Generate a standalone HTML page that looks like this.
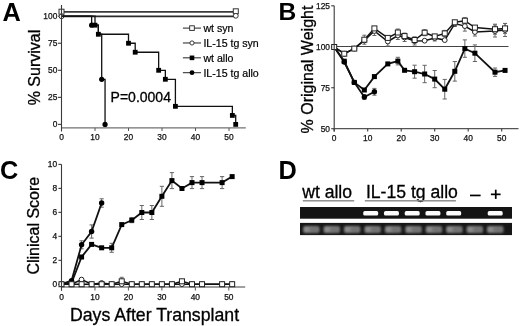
<!DOCTYPE html>
<html><head><meta charset="utf-8"><style>
html,body{margin:0;padding:0;background:#fff;}
svg{display:block;will-change:transform;}
text{font-family:"Liberation Sans", sans-serif;}
</style></head><body>
<svg width="520" height="326" viewBox="0 0 520 326">
<defs>
<radialGradient id="band" cx="0.5" cy="0.5" r="0.6"><stop offset="0" stop-color="#fff"/><stop offset="0.6" stop-color="#f4f4f4"/><stop offset="1" stop-color="#bbb"/></radialGradient>
<linearGradient id="band2" x1="0" x2="1" y1="0" y2="0"><stop offset="0" stop-color="#7a7a7a"/><stop offset="0.3" stop-color="#848484"/><stop offset="1" stop-color="#707070"/></linearGradient>
<filter id="bl" x="-20%" y="-50%" width="140%" height="200%"><feGaussianBlur stdDeviation="0.55"/></filter>
<filter id="bl2" x="-20%" y="-50%" width="140%" height="200%"><feGaussianBlur stdDeviation="0.85"/></filter>
</defs>
<rect width="520" height="326" fill="#fff"/>
<text x="2.60" y="20.70" font-size="25.3" text-anchor="start" font-weight="bold" fill="#000">A</text>
<text x="278.60" y="20.40" font-size="24.6" text-anchor="start" font-weight="bold" fill="#000">B</text>
<text x="0.10" y="179.30" font-size="25.3" text-anchor="start" font-weight="bold" fill="#000">C</text>
<text x="278.40" y="178.50" font-size="25.3" text-anchor="start" font-weight="bold" fill="#000">D</text>
<line x1="61.50" y1="127.90" x2="245.80" y2="127.90" stroke="#707070" stroke-width="1.4"/>
<line x1="58.00" y1="124.40" x2="61.50" y2="124.40" stroke="#3a3a3a" stroke-width="1.1"/>
<text x="57.30" y="127.40" font-size="8.4" text-anchor="end" font-weight="normal" fill="#111" stroke="#111" stroke-width="0.25">0</text>
<line x1="58.00" y1="97.35" x2="61.50" y2="97.35" stroke="#3a3a3a" stroke-width="1.1"/>
<text x="57.30" y="100.35" font-size="8.4" text-anchor="end" font-weight="normal" fill="#111" stroke="#111" stroke-width="0.25">25</text>
<line x1="58.00" y1="70.30" x2="61.50" y2="70.30" stroke="#3a3a3a" stroke-width="1.1"/>
<text x="57.30" y="73.30" font-size="8.4" text-anchor="end" font-weight="normal" fill="#111" stroke="#111" stroke-width="0.25">50</text>
<line x1="58.00" y1="43.25" x2="61.50" y2="43.25" stroke="#3a3a3a" stroke-width="1.1"/>
<text x="57.30" y="46.25" font-size="8.4" text-anchor="end" font-weight="normal" fill="#111" stroke="#111" stroke-width="0.25">75</text>
<line x1="58.00" y1="16.20" x2="61.50" y2="16.20" stroke="#3a3a3a" stroke-width="1.1"/>
<text x="57.30" y="19.20" font-size="8.4" text-anchor="end" font-weight="normal" fill="#111" stroke="#111" stroke-width="0.25">100</text>
<line x1="61.50" y1="127.90" x2="61.50" y2="131.00" stroke="#555" stroke-width="1.0"/>
<text x="61.50" y="140.30" font-size="8.4" text-anchor="middle" font-weight="normal" fill="#111" stroke="#111" stroke-width="0.25">0</text>
<line x1="95.00" y1="127.90" x2="95.00" y2="131.00" stroke="#555" stroke-width="1.0"/>
<text x="95.00" y="140.30" font-size="8.4" text-anchor="middle" font-weight="normal" fill="#111" stroke="#111" stroke-width="0.25">10</text>
<line x1="128.50" y1="127.90" x2="128.50" y2="131.00" stroke="#555" stroke-width="1.0"/>
<text x="128.50" y="140.30" font-size="8.4" text-anchor="middle" font-weight="normal" fill="#111" stroke="#111" stroke-width="0.25">20</text>
<line x1="162.00" y1="127.90" x2="162.00" y2="131.00" stroke="#555" stroke-width="1.0"/>
<text x="162.00" y="140.30" font-size="8.4" text-anchor="middle" font-weight="normal" fill="#111" stroke="#111" stroke-width="0.25">30</text>
<line x1="195.50" y1="127.90" x2="195.50" y2="131.00" stroke="#555" stroke-width="1.0"/>
<text x="195.50" y="140.30" font-size="8.4" text-anchor="middle" font-weight="normal" fill="#111" stroke="#111" stroke-width="0.25">40</text>
<line x1="229.00" y1="127.90" x2="229.00" y2="131.00" stroke="#555" stroke-width="1.0"/>
<text x="229.00" y="140.30" font-size="8.4" text-anchor="middle" font-weight="normal" fill="#111" stroke="#111" stroke-width="0.25">50</text>
<text x="39.60" y="67.50" font-size="16" text-anchor="middle" font-weight="normal" fill="#000" transform="rotate(-90 39.6 67.5)" stroke="#000" stroke-width="0.3">% Survival</text>
<polyline points="61.50,11.90 235.80,11.90" fill="none" stroke="#3a3a3a" stroke-width="1.7" stroke-linejoin="miter"/>
<polyline points="61.50,16.30 235.80,16.30" fill="none" stroke="#2a2a2a" stroke-width="1.7" stroke-linejoin="miter"/>
<rect x="59.00" y="9.20" width="5" height="5" fill="#fff" stroke="#333" stroke-width="1"/>
<rect x="233.30" y="8.80" width="5" height="5" fill="#fff" stroke="#333" stroke-width="1"/>
<circle cx="61.50" cy="16.30" r="2.4" fill="#fff" stroke="#333" stroke-width="1"/>
<circle cx="235.80" cy="15.80" r="2.4" fill="#fff" stroke="#333" stroke-width="1"/>
<polyline points="61.50,16.20 91.65,16.20 91.65,25.18 98.35,25.18 98.35,34.27 101.70,34.27 101.70,79.28 105.05,79.28 105.05,124.40" fill="none" stroke="#111" stroke-width="1.3" stroke-linejoin="miter"/>
<polyline points="61.50,16.20 95.00,16.20 95.00,25.18 98.35,25.18 98.35,34.27 128.50,34.27 128.50,43.25 135.20,43.25 135.20,52.23 158.65,52.23 158.65,70.30 165.35,70.30 165.35,79.28 175.40,79.28 175.40,106.33 232.35,106.33 232.35,115.42 235.70,115.42 235.70,124.40" fill="none" stroke="#111" stroke-width="1.3" stroke-linejoin="miter"/>
<circle cx="91.65" cy="25.18" r="2.6" fill="#000"/>
<circle cx="101.70" cy="79.28" r="2.6" fill="#000"/>
<circle cx="105.05" cy="124.40" r="2.6" fill="#000"/>
<rect x="92.60" y="22.78" width="4.8" height="4.8" fill="#000"/>
<rect x="95.95" y="31.87" width="4.8" height="4.8" fill="#000"/>
<rect x="126.10" y="40.85" width="4.8" height="4.8" fill="#000"/>
<rect x="132.80" y="49.83" width="4.8" height="4.8" fill="#000"/>
<rect x="156.25" y="67.90" width="4.8" height="4.8" fill="#000"/>
<rect x="162.95" y="76.88" width="4.8" height="4.8" fill="#000"/>
<rect x="173.00" y="103.93" width="4.8" height="4.8" fill="#000"/>
<rect x="229.95" y="113.02" width="4.8" height="4.8" fill="#000"/>
<rect x="233.30" y="122.00" width="4.8" height="4.8" fill="#000"/>
<line x1="182.90" y1="28.10" x2="201.00" y2="28.10" stroke="#222" stroke-width="1.0"/>
<rect x="189.70" y="25.80" width="4.6" height="4.6" fill="#fff" stroke="#222" stroke-width="0.9"/>
<text x="203.40" y="31.90" font-size="10.6" text-anchor="start" font-weight="normal" fill="#000" stroke="#000" stroke-width="0.2">wt syn</text>
<line x1="182.90" y1="42.97" x2="201.00" y2="42.97" stroke="#222" stroke-width="1.0"/>
<circle cx="192.00" cy="42.97" r="2.1" fill="#fff" stroke="#222" stroke-width="0.9"/>
<text x="203.40" y="46.77" font-size="10.6" text-anchor="start" font-weight="normal" fill="#000" stroke="#000" stroke-width="0.2">IL-15 tg syn</text>
<line x1="182.90" y1="57.84" x2="201.00" y2="57.84" stroke="#222" stroke-width="1.0"/>
<rect x="189.70" y="55.54" width="4.6" height="4.6" fill="#000"/>
<text x="203.40" y="61.64" font-size="10.6" text-anchor="start" font-weight="normal" fill="#000" stroke="#000" stroke-width="0.2">wt allo</text>
<line x1="182.90" y1="72.71" x2="201.00" y2="72.71" stroke="#222" stroke-width="1.0"/>
<circle cx="192.00" cy="72.71" r="2.4" fill="#000"/>
<text x="203.40" y="76.51" font-size="10.6" text-anchor="start" font-weight="normal" fill="#000" stroke="#000" stroke-width="0.2">IL-15 tg allo</text>
<text x="110.60" y="101.50" font-size="14" text-anchor="start" font-weight="normal" fill="#000" stroke="#000" stroke-width="0.3">P=0.0004</text>
<line x1="334.20" y1="128.70" x2="518.50" y2="128.70" stroke="#555" stroke-width="1.3"/>
<line x1="331.20" y1="5.80" x2="334.20" y2="5.80" stroke="#3a3a3a" stroke-width="1.1"/>
<text x="330.00" y="9.00" font-size="8.4" text-anchor="end" font-weight="normal" fill="#111" stroke="#111" stroke-width="0.25">125</text>
<line x1="331.20" y1="46.77" x2="334.20" y2="46.77" stroke="#3a3a3a" stroke-width="1.1"/>
<text x="330.00" y="49.97" font-size="8.4" text-anchor="end" font-weight="normal" fill="#111" stroke="#111" stroke-width="0.25">100</text>
<line x1="331.20" y1="87.75" x2="334.20" y2="87.75" stroke="#3a3a3a" stroke-width="1.1"/>
<text x="330.00" y="90.95" font-size="8.4" text-anchor="end" font-weight="normal" fill="#111" stroke="#111" stroke-width="0.25">75</text>
<line x1="331.20" y1="128.72" x2="334.20" y2="128.72" stroke="#3a3a3a" stroke-width="1.1"/>
<text x="330.00" y="131.92" font-size="8.4" text-anchor="end" font-weight="normal" fill="#111" stroke="#111" stroke-width="0.25">50</text>
<line x1="334.20" y1="128.70" x2="334.20" y2="131.60" stroke="#3a3a3a" stroke-width="1.1"/>
<text x="334.20" y="140.80" font-size="8.4" text-anchor="middle" font-weight="normal" fill="#111" stroke="#111" stroke-width="0.25">0</text>
<line x1="367.70" y1="128.70" x2="367.70" y2="131.60" stroke="#3a3a3a" stroke-width="1.1"/>
<text x="367.70" y="140.80" font-size="8.4" text-anchor="middle" font-weight="normal" fill="#111" stroke="#111" stroke-width="0.25">10</text>
<line x1="401.20" y1="128.70" x2="401.20" y2="131.60" stroke="#3a3a3a" stroke-width="1.1"/>
<text x="401.20" y="140.80" font-size="8.4" text-anchor="middle" font-weight="normal" fill="#111" stroke="#111" stroke-width="0.25">20</text>
<line x1="434.70" y1="128.70" x2="434.70" y2="131.60" stroke="#3a3a3a" stroke-width="1.1"/>
<text x="434.70" y="140.80" font-size="8.4" text-anchor="middle" font-weight="normal" fill="#111" stroke="#111" stroke-width="0.25">30</text>
<line x1="468.20" y1="128.70" x2="468.20" y2="131.60" stroke="#3a3a3a" stroke-width="1.1"/>
<text x="468.20" y="140.80" font-size="8.4" text-anchor="middle" font-weight="normal" fill="#111" stroke="#111" stroke-width="0.25">40</text>
<line x1="501.70" y1="128.70" x2="501.70" y2="131.60" stroke="#3a3a3a" stroke-width="1.1"/>
<text x="501.70" y="140.80" font-size="8.4" text-anchor="middle" font-weight="normal" fill="#111" stroke="#111" stroke-width="0.25">50</text>
<line x1="334.20" y1="46.50" x2="508.50" y2="46.50" stroke="#444" stroke-width="1.1"/>
<text x="313.20" y="69.50" font-size="16" text-anchor="middle" font-weight="normal" fill="#000" transform="rotate(-90 313.2 69.5)" stroke="#000" stroke-width="0.3">% Original Weight</text>
<line x1="364.35" y1="35.20" x2="364.35" y2="44.20" stroke="#666" stroke-width="1"/>
<line x1="362.35" y1="35.20" x2="366.35" y2="35.20" stroke="#666" stroke-width="1"/>
<line x1="362.35" y1="44.20" x2="366.35" y2="44.20" stroke="#666" stroke-width="1"/>
<line x1="374.40" y1="26.50" x2="374.40" y2="35.50" stroke="#666" stroke-width="1"/>
<line x1="372.40" y1="26.50" x2="376.40" y2="26.50" stroke="#666" stroke-width="1"/>
<line x1="372.40" y1="35.50" x2="376.40" y2="35.50" stroke="#666" stroke-width="1"/>
<line x1="387.80" y1="37.00" x2="387.80" y2="46.00" stroke="#666" stroke-width="1"/>
<line x1="385.80" y1="37.00" x2="389.80" y2="37.00" stroke="#666" stroke-width="1"/>
<line x1="385.80" y1="46.00" x2="389.80" y2="46.00" stroke="#666" stroke-width="1"/>
<line x1="397.85" y1="29.00" x2="397.85" y2="36.00" stroke="#666" stroke-width="1"/>
<line x1="395.85" y1="29.00" x2="399.85" y2="29.00" stroke="#666" stroke-width="1"/>
<line x1="395.85" y1="36.00" x2="399.85" y2="36.00" stroke="#666" stroke-width="1"/>
<line x1="397.85" y1="31.50" x2="397.85" y2="39.50" stroke="#666" stroke-width="1"/>
<line x1="395.85" y1="31.50" x2="399.85" y2="31.50" stroke="#666" stroke-width="1"/>
<line x1="395.85" y1="39.50" x2="399.85" y2="39.50" stroke="#666" stroke-width="1"/>
<line x1="397.85" y1="57.30" x2="397.85" y2="64.90" stroke="#666" stroke-width="1"/>
<line x1="395.75" y1="57.30" x2="399.95" y2="57.30" stroke="#666" stroke-width="1"/>
<line x1="395.75" y1="64.90" x2="399.95" y2="64.90" stroke="#666" stroke-width="1"/>
<line x1="404.55" y1="33.10" x2="404.55" y2="39.10" stroke="#666" stroke-width="1"/>
<line x1="402.55" y1="33.10" x2="406.55" y2="33.10" stroke="#666" stroke-width="1"/>
<line x1="402.55" y1="39.10" x2="406.55" y2="39.10" stroke="#666" stroke-width="1"/>
<line x1="404.55" y1="33.50" x2="404.55" y2="41.50" stroke="#666" stroke-width="1"/>
<line x1="402.55" y1="33.50" x2="406.55" y2="33.50" stroke="#666" stroke-width="1"/>
<line x1="402.55" y1="41.50" x2="406.55" y2="41.50" stroke="#666" stroke-width="1"/>
<line x1="414.60" y1="37.00" x2="414.60" y2="43.00" stroke="#666" stroke-width="1"/>
<line x1="412.60" y1="37.00" x2="416.60" y2="37.00" stroke="#666" stroke-width="1"/>
<line x1="412.60" y1="43.00" x2="416.60" y2="43.00" stroke="#666" stroke-width="1"/>
<line x1="414.60" y1="37.00" x2="414.60" y2="45.00" stroke="#666" stroke-width="1"/>
<line x1="412.60" y1="37.00" x2="416.60" y2="37.00" stroke="#666" stroke-width="1"/>
<line x1="412.60" y1="45.00" x2="416.60" y2="45.00" stroke="#666" stroke-width="1"/>
<line x1="414.60" y1="65.20" x2="414.60" y2="78.20" stroke="#666" stroke-width="1"/>
<line x1="412.50" y1="65.20" x2="416.70" y2="65.20" stroke="#666" stroke-width="1"/>
<line x1="412.50" y1="78.20" x2="416.70" y2="78.20" stroke="#666" stroke-width="1"/>
<line x1="424.65" y1="29.70" x2="424.65" y2="35.70" stroke="#666" stroke-width="1"/>
<line x1="422.65" y1="29.70" x2="426.65" y2="29.70" stroke="#666" stroke-width="1"/>
<line x1="422.65" y1="35.70" x2="426.65" y2="35.70" stroke="#666" stroke-width="1"/>
<line x1="424.65" y1="65.30" x2="424.65" y2="82.70" stroke="#666" stroke-width="1"/>
<line x1="422.55" y1="65.30" x2="426.75" y2="65.30" stroke="#666" stroke-width="1"/>
<line x1="422.55" y1="82.70" x2="426.75" y2="82.70" stroke="#666" stroke-width="1"/>
<line x1="434.70" y1="35.00" x2="434.70" y2="41.00" stroke="#666" stroke-width="1"/>
<line x1="432.70" y1="35.00" x2="436.70" y2="35.00" stroke="#666" stroke-width="1"/>
<line x1="432.70" y1="41.00" x2="436.70" y2="41.00" stroke="#666" stroke-width="1"/>
<line x1="434.70" y1="70.50" x2="434.70" y2="87.70" stroke="#666" stroke-width="1"/>
<line x1="432.60" y1="70.50" x2="436.80" y2="70.50" stroke="#666" stroke-width="1"/>
<line x1="432.60" y1="87.70" x2="436.80" y2="87.70" stroke="#666" stroke-width="1"/>
<line x1="444.75" y1="30.40" x2="444.75" y2="36.40" stroke="#666" stroke-width="1"/>
<line x1="442.75" y1="30.40" x2="446.75" y2="30.40" stroke="#666" stroke-width="1"/>
<line x1="442.75" y1="36.40" x2="446.75" y2="36.40" stroke="#666" stroke-width="1"/>
<line x1="444.75" y1="79.40" x2="444.75" y2="99.00" stroke="#666" stroke-width="1"/>
<line x1="442.65" y1="79.40" x2="446.85" y2="79.40" stroke="#666" stroke-width="1"/>
<line x1="442.65" y1="99.00" x2="446.85" y2="99.00" stroke="#666" stroke-width="1"/>
<line x1="454.80" y1="20.50" x2="454.80" y2="26.50" stroke="#666" stroke-width="1"/>
<line x1="452.80" y1="20.50" x2="456.80" y2="20.50" stroke="#666" stroke-width="1"/>
<line x1="452.80" y1="26.50" x2="456.80" y2="26.50" stroke="#666" stroke-width="1"/>
<line x1="454.80" y1="61.50" x2="454.80" y2="81.10" stroke="#666" stroke-width="1"/>
<line x1="452.70" y1="61.50" x2="456.90" y2="61.50" stroke="#666" stroke-width="1"/>
<line x1="452.70" y1="81.10" x2="456.90" y2="81.10" stroke="#666" stroke-width="1"/>
<line x1="464.85" y1="17.70" x2="464.85" y2="23.70" stroke="#666" stroke-width="1"/>
<line x1="462.85" y1="17.70" x2="466.85" y2="17.70" stroke="#666" stroke-width="1"/>
<line x1="462.85" y1="23.70" x2="466.85" y2="23.70" stroke="#666" stroke-width="1"/>
<line x1="464.85" y1="21.10" x2="464.85" y2="31.10" stroke="#666" stroke-width="1"/>
<line x1="462.85" y1="21.10" x2="466.85" y2="21.10" stroke="#666" stroke-width="1"/>
<line x1="462.85" y1="31.10" x2="466.85" y2="31.10" stroke="#666" stroke-width="1"/>
<line x1="464.85" y1="39.90" x2="464.85" y2="57.30" stroke="#666" stroke-width="1"/>
<line x1="462.75" y1="39.90" x2="466.95" y2="39.90" stroke="#666" stroke-width="1"/>
<line x1="462.75" y1="57.30" x2="466.95" y2="57.30" stroke="#666" stroke-width="1"/>
<line x1="474.90" y1="28.00" x2="474.90" y2="36.00" stroke="#666" stroke-width="1"/>
<line x1="472.90" y1="28.00" x2="476.90" y2="28.00" stroke="#666" stroke-width="1"/>
<line x1="472.90" y1="36.00" x2="476.90" y2="36.00" stroke="#666" stroke-width="1"/>
<line x1="474.90" y1="44.90" x2="474.90" y2="61.50" stroke="#666" stroke-width="1"/>
<line x1="472.80" y1="44.90" x2="477.00" y2="44.90" stroke="#666" stroke-width="1"/>
<line x1="472.80" y1="61.50" x2="477.00" y2="61.50" stroke="#666" stroke-width="1"/>
<line x1="495.00" y1="24.20" x2="495.00" y2="34.20" stroke="#666" stroke-width="1"/>
<line x1="493.00" y1="24.20" x2="497.00" y2="24.20" stroke="#666" stroke-width="1"/>
<line x1="493.00" y1="34.20" x2="497.00" y2="34.20" stroke="#666" stroke-width="1"/>
<line x1="495.00" y1="25.00" x2="495.00" y2="37.00" stroke="#666" stroke-width="1"/>
<line x1="493.00" y1="25.00" x2="497.00" y2="25.00" stroke="#666" stroke-width="1"/>
<line x1="493.00" y1="37.00" x2="497.00" y2="37.00" stroke="#666" stroke-width="1"/>
<line x1="495.00" y1="68.00" x2="495.00" y2="76.40" stroke="#666" stroke-width="1"/>
<line x1="492.90" y1="68.00" x2="497.10" y2="68.00" stroke="#666" stroke-width="1"/>
<line x1="492.90" y1="76.40" x2="497.10" y2="76.40" stroke="#666" stroke-width="1"/>
<line x1="505.05" y1="23.40" x2="505.05" y2="33.40" stroke="#666" stroke-width="1"/>
<line x1="503.05" y1="23.40" x2="507.05" y2="23.40" stroke="#666" stroke-width="1"/>
<line x1="503.05" y1="33.40" x2="507.05" y2="33.40" stroke="#666" stroke-width="1"/>
<line x1="505.05" y1="23.50" x2="505.05" y2="36.50" stroke="#666" stroke-width="1"/>
<line x1="503.05" y1="23.50" x2="507.05" y2="23.50" stroke="#666" stroke-width="1"/>
<line x1="503.05" y1="36.50" x2="507.05" y2="36.50" stroke="#666" stroke-width="1"/>
<line x1="364.35" y1="94.60" x2="364.35" y2="99.40" stroke="#666" stroke-width="1"/>
<line x1="362.25" y1="94.60" x2="366.45" y2="94.60" stroke="#666" stroke-width="1"/>
<line x1="362.25" y1="99.40" x2="366.45" y2="99.40" stroke="#666" stroke-width="1"/>
<line x1="374.40" y1="88.40" x2="374.40" y2="95.20" stroke="#666" stroke-width="1"/>
<line x1="372.30" y1="88.40" x2="376.50" y2="88.40" stroke="#666" stroke-width="1"/>
<line x1="372.30" y1="95.20" x2="376.50" y2="95.20" stroke="#666" stroke-width="1"/>
<polyline points="334.20,47.00 344.25,53.70 354.30,48.60 364.35,40.50 374.40,31.00 387.80,41.50 397.85,35.50 404.55,37.50 414.60,41.00 424.65,40.70 434.70,38.00 444.75,40.10 454.80,23.50 464.85,26.10 474.90,32.00 495.00,31.00 505.05,30.00" fill="none" stroke="#111" stroke-width="1.5" stroke-linejoin="miter"/>
<polyline points="334.20,47.00 344.25,53.70 354.30,48.60 364.35,39.70 374.40,28.40 387.80,37.90 397.85,32.50 404.55,36.10 414.60,40.00 424.65,32.70 434.70,36.40 444.75,33.40 454.80,22.30 464.85,20.70 474.90,27.60 495.00,29.20 505.05,28.40" fill="none" stroke="#111" stroke-width="1.5" stroke-linejoin="miter"/>
<polyline points="334.20,47.00 344.25,61.20 354.30,82.40 364.35,90.00 374.40,76.60 387.80,63.90 397.85,61.10 404.55,70.30 414.60,71.70 424.65,74.00 434.70,79.10 444.75,89.20 454.80,71.30 464.85,48.60 474.90,53.20 495.00,72.20 505.05,70.40" fill="none" stroke="#111" stroke-width="1.8" stroke-linejoin="miter"/>
<polyline points="334.20,47.00 344.25,62.00 354.30,82.40 364.35,97.00 374.40,91.80" fill="none" stroke="#111" stroke-width="1.8" stroke-linejoin="miter"/>
<circle cx="334.20" cy="47.00" r="2.4" fill="#fff" stroke="#222" stroke-width="1"/>
<circle cx="344.25" cy="53.70" r="2.4" fill="#fff" stroke="#222" stroke-width="1"/>
<circle cx="354.30" cy="48.60" r="2.4" fill="#fff" stroke="#222" stroke-width="1"/>
<circle cx="364.35" cy="40.50" r="2.4" fill="#fff" stroke="#222" stroke-width="1"/>
<circle cx="374.40" cy="31.00" r="2.4" fill="#fff" stroke="#222" stroke-width="1"/>
<circle cx="387.80" cy="41.50" r="2.4" fill="#fff" stroke="#222" stroke-width="1"/>
<circle cx="397.85" cy="35.50" r="2.4" fill="#fff" stroke="#222" stroke-width="1"/>
<circle cx="404.55" cy="37.50" r="2.4" fill="#fff" stroke="#222" stroke-width="1"/>
<circle cx="414.60" cy="41.00" r="2.4" fill="#fff" stroke="#222" stroke-width="1"/>
<circle cx="424.65" cy="40.70" r="2.4" fill="#fff" stroke="#222" stroke-width="1"/>
<circle cx="434.70" cy="38.00" r="2.4" fill="#fff" stroke="#222" stroke-width="1"/>
<circle cx="444.75" cy="40.10" r="2.4" fill="#fff" stroke="#222" stroke-width="1"/>
<circle cx="454.80" cy="23.50" r="2.4" fill="#fff" stroke="#222" stroke-width="1"/>
<circle cx="464.85" cy="26.10" r="2.4" fill="#fff" stroke="#222" stroke-width="1"/>
<circle cx="474.90" cy="32.00" r="2.4" fill="#fff" stroke="#222" stroke-width="1"/>
<circle cx="495.00" cy="31.00" r="2.4" fill="#fff" stroke="#222" stroke-width="1"/>
<circle cx="505.05" cy="30.00" r="2.4" fill="#fff" stroke="#222" stroke-width="1"/>
<rect x="331.70" y="44.50" width="5" height="5" fill="#fff" stroke="#222" stroke-width="1"/>
<rect x="341.75" y="51.20" width="5" height="5" fill="#fff" stroke="#222" stroke-width="1"/>
<rect x="351.80" y="46.10" width="5" height="5" fill="#fff" stroke="#222" stroke-width="1"/>
<rect x="361.85" y="37.20" width="5" height="5" fill="#fff" stroke="#222" stroke-width="1"/>
<rect x="371.90" y="25.90" width="5" height="5" fill="#fff" stroke="#222" stroke-width="1"/>
<rect x="385.30" y="35.40" width="5" height="5" fill="#fff" stroke="#222" stroke-width="1"/>
<rect x="395.35" y="30.00" width="5" height="5" fill="#fff" stroke="#222" stroke-width="1"/>
<rect x="402.05" y="33.60" width="5" height="5" fill="#fff" stroke="#222" stroke-width="1"/>
<rect x="412.10" y="37.50" width="5" height="5" fill="#fff" stroke="#222" stroke-width="1"/>
<rect x="422.15" y="30.20" width="5" height="5" fill="#fff" stroke="#222" stroke-width="1"/>
<rect x="432.20" y="33.90" width="5" height="5" fill="#fff" stroke="#222" stroke-width="1"/>
<rect x="442.25" y="30.90" width="5" height="5" fill="#fff" stroke="#222" stroke-width="1"/>
<rect x="452.30" y="19.80" width="5" height="5" fill="#fff" stroke="#222" stroke-width="1"/>
<rect x="462.35" y="18.20" width="5" height="5" fill="#fff" stroke="#222" stroke-width="1"/>
<rect x="472.40" y="25.10" width="5" height="5" fill="#fff" stroke="#222" stroke-width="1"/>
<rect x="492.50" y="26.70" width="5" height="5" fill="#fff" stroke="#222" stroke-width="1"/>
<rect x="502.55" y="25.90" width="5" height="5" fill="#fff" stroke="#222" stroke-width="1"/>
<circle cx="344.25" cy="62.00" r="2.7" fill="#000"/>
<circle cx="354.30" cy="82.40" r="2.7" fill="#000"/>
<circle cx="364.35" cy="97.00" r="2.7" fill="#000"/>
<circle cx="374.40" cy="91.80" r="2.7" fill="#000"/>
<rect x="341.75" y="58.70" width="5" height="5" fill="#000"/>
<rect x="351.80" y="79.90" width="5" height="5" fill="#000"/>
<rect x="361.85" y="87.50" width="5" height="5" fill="#000"/>
<rect x="371.90" y="74.10" width="5" height="5" fill="#000"/>
<rect x="385.30" y="61.40" width="5" height="5" fill="#000"/>
<rect x="395.35" y="58.60" width="5" height="5" fill="#000"/>
<rect x="402.05" y="67.80" width="5" height="5" fill="#000"/>
<rect x="412.10" y="69.20" width="5" height="5" fill="#000"/>
<rect x="422.15" y="71.50" width="5" height="5" fill="#000"/>
<rect x="432.20" y="76.60" width="5" height="5" fill="#000"/>
<rect x="442.25" y="86.70" width="5" height="5" fill="#000"/>
<rect x="452.30" y="68.80" width="5" height="5" fill="#000"/>
<rect x="462.35" y="46.10" width="5" height="5" fill="#000"/>
<rect x="472.40" y="50.70" width="5" height="5" fill="#000"/>
<rect x="492.50" y="69.70" width="5" height="5" fill="#000"/>
<rect x="502.55" y="67.90" width="5" height="5" fill="#000"/>
<line x1="61.50" y1="287.00" x2="245.20" y2="287.00" stroke="#808080" stroke-width="1.4"/>
<line x1="58.40" y1="284.30" x2="61.50" y2="284.30" stroke="#3a3a3a" stroke-width="1.1"/>
<text x="57.10" y="287.00" font-size="8.4" text-anchor="end" font-weight="normal" fill="#111" stroke="#111" stroke-width="0.25">0</text>
<line x1="58.40" y1="260.32" x2="61.50" y2="260.32" stroke="#3a3a3a" stroke-width="1.1"/>
<text x="57.10" y="263.02" font-size="8.4" text-anchor="end" font-weight="normal" fill="#111" stroke="#111" stroke-width="0.25">2</text>
<line x1="58.40" y1="236.34" x2="61.50" y2="236.34" stroke="#3a3a3a" stroke-width="1.1"/>
<text x="57.10" y="239.04" font-size="8.4" text-anchor="end" font-weight="normal" fill="#111" stroke="#111" stroke-width="0.25">4</text>
<line x1="58.40" y1="212.36" x2="61.50" y2="212.36" stroke="#3a3a3a" stroke-width="1.1"/>
<text x="57.10" y="215.06" font-size="8.4" text-anchor="end" font-weight="normal" fill="#111" stroke="#111" stroke-width="0.25">6</text>
<line x1="58.40" y1="188.38" x2="61.50" y2="188.38" stroke="#3a3a3a" stroke-width="1.1"/>
<text x="57.10" y="191.08" font-size="8.4" text-anchor="end" font-weight="normal" fill="#111" stroke="#111" stroke-width="0.25">8</text>
<line x1="58.40" y1="164.40" x2="61.50" y2="164.40" stroke="#3a3a3a" stroke-width="1.1"/>
<text x="57.10" y="167.10" font-size="8.4" text-anchor="end" font-weight="normal" fill="#111" stroke="#111" stroke-width="0.25">10</text>
<line x1="61.50" y1="287.00" x2="61.50" y2="290.50" stroke="#555" stroke-width="1.0"/>
<text x="61.50" y="300.20" font-size="8.4" text-anchor="middle" font-weight="normal" fill="#111" stroke="#111" stroke-width="0.25">0</text>
<line x1="94.96" y1="287.00" x2="94.96" y2="290.50" stroke="#555" stroke-width="1.0"/>
<text x="94.96" y="300.20" font-size="8.4" text-anchor="middle" font-weight="normal" fill="#111" stroke="#111" stroke-width="0.25">10</text>
<line x1="128.42" y1="287.00" x2="128.42" y2="290.50" stroke="#555" stroke-width="1.0"/>
<text x="128.42" y="300.20" font-size="8.4" text-anchor="middle" font-weight="normal" fill="#111" stroke="#111" stroke-width="0.25">20</text>
<line x1="161.88" y1="287.00" x2="161.88" y2="290.50" stroke="#555" stroke-width="1.0"/>
<text x="161.88" y="300.20" font-size="8.4" text-anchor="middle" font-weight="normal" fill="#111" stroke="#111" stroke-width="0.25">30</text>
<line x1="195.34" y1="287.00" x2="195.34" y2="290.50" stroke="#555" stroke-width="1.0"/>
<text x="195.34" y="300.20" font-size="8.4" text-anchor="middle" font-weight="normal" fill="#111" stroke="#111" stroke-width="0.25">40</text>
<line x1="228.80" y1="287.00" x2="228.80" y2="290.50" stroke="#555" stroke-width="1.0"/>
<text x="228.80" y="300.20" font-size="8.4" text-anchor="middle" font-weight="normal" fill="#111" stroke="#111" stroke-width="0.25">50</text>
<text x="39.40" y="225.70" font-size="16" text-anchor="middle" font-weight="normal" fill="#000" transform="rotate(-90 39.4 225.7)" stroke="#000" stroke-width="0.3">Clinical Score</text>
<text x="154.50" y="320.90" font-size="17.7" text-anchor="middle" font-weight="normal" fill="#000" stroke="#000" stroke-width="0.3">Days After Transplant</text>
<line x1="111.69" y1="243.30" x2="111.69" y2="252.30" stroke="#666" stroke-width="1"/>
<line x1="109.59" y1="243.30" x2="113.79" y2="243.30" stroke="#666" stroke-width="1"/>
<line x1="109.59" y1="252.30" x2="113.79" y2="252.30" stroke="#666" stroke-width="1"/>
<line x1="131.77" y1="217.70" x2="131.77" y2="222.70" stroke="#666" stroke-width="1"/>
<line x1="129.67" y1="217.70" x2="133.87" y2="217.70" stroke="#666" stroke-width="1"/>
<line x1="129.67" y1="222.70" x2="133.87" y2="222.70" stroke="#666" stroke-width="1"/>
<line x1="141.80" y1="205.50" x2="141.80" y2="219.50" stroke="#666" stroke-width="1"/>
<line x1="139.70" y1="205.50" x2="143.90" y2="205.50" stroke="#666" stroke-width="1"/>
<line x1="139.70" y1="219.50" x2="143.90" y2="219.50" stroke="#666" stroke-width="1"/>
<line x1="151.84" y1="205.50" x2="151.84" y2="219.50" stroke="#666" stroke-width="1"/>
<line x1="149.74" y1="205.50" x2="153.94" y2="205.50" stroke="#666" stroke-width="1"/>
<line x1="149.74" y1="219.50" x2="153.94" y2="219.50" stroke="#666" stroke-width="1"/>
<line x1="161.88" y1="186.30" x2="161.88" y2="206.30" stroke="#666" stroke-width="1"/>
<line x1="159.78" y1="186.30" x2="163.98" y2="186.30" stroke="#666" stroke-width="1"/>
<line x1="159.78" y1="206.30" x2="163.98" y2="206.30" stroke="#666" stroke-width="1"/>
<line x1="171.92" y1="172.60" x2="171.92" y2="188.60" stroke="#666" stroke-width="1"/>
<line x1="169.82" y1="172.60" x2="174.02" y2="172.60" stroke="#666" stroke-width="1"/>
<line x1="169.82" y1="188.60" x2="174.02" y2="188.60" stroke="#666" stroke-width="1"/>
<line x1="191.99" y1="176.60" x2="191.99" y2="188.60" stroke="#666" stroke-width="1"/>
<line x1="189.89" y1="176.60" x2="194.09" y2="176.60" stroke="#666" stroke-width="1"/>
<line x1="189.89" y1="188.60" x2="194.09" y2="188.60" stroke="#666" stroke-width="1"/>
<line x1="202.03" y1="176.60" x2="202.03" y2="188.60" stroke="#666" stroke-width="1"/>
<line x1="199.93" y1="176.60" x2="204.13" y2="176.60" stroke="#666" stroke-width="1"/>
<line x1="199.93" y1="188.60" x2="204.13" y2="188.60" stroke="#666" stroke-width="1"/>
<line x1="222.11" y1="176.60" x2="222.11" y2="188.60" stroke="#666" stroke-width="1"/>
<line x1="220.01" y1="176.60" x2="224.21" y2="176.60" stroke="#666" stroke-width="1"/>
<line x1="220.01" y1="188.60" x2="224.21" y2="188.60" stroke="#666" stroke-width="1"/>
<line x1="81.58" y1="240.80" x2="81.58" y2="248.80" stroke="#666" stroke-width="1"/>
<line x1="79.48" y1="240.80" x2="83.68" y2="240.80" stroke="#666" stroke-width="1"/>
<line x1="79.48" y1="248.80" x2="83.68" y2="248.80" stroke="#666" stroke-width="1"/>
<line x1="91.61" y1="224.90" x2="91.61" y2="238.10" stroke="#666" stroke-width="1"/>
<line x1="89.51" y1="224.90" x2="93.71" y2="224.90" stroke="#666" stroke-width="1"/>
<line x1="89.51" y1="238.10" x2="93.71" y2="238.10" stroke="#666" stroke-width="1"/>
<line x1="101.65" y1="198.80" x2="101.65" y2="207.20" stroke="#666" stroke-width="1"/>
<line x1="99.55" y1="198.80" x2="103.75" y2="198.80" stroke="#666" stroke-width="1"/>
<line x1="99.55" y1="207.20" x2="103.75" y2="207.20" stroke="#666" stroke-width="1"/>
<line x1="121.73" y1="277.30" x2="121.73" y2="285.30" stroke="#666" stroke-width="1"/>
<line x1="119.73" y1="277.30" x2="123.73" y2="277.30" stroke="#666" stroke-width="1"/>
<line x1="119.73" y1="285.30" x2="123.73" y2="285.30" stroke="#666" stroke-width="1"/>
<polyline points="61.50,284.20 71.54,284.20 81.58,279.60 91.61,284.20 101.65,283.00 111.69,284.20 121.73,284.20 131.77,284.20 141.80,284.20 151.84,284.20 161.88,284.20 171.92,284.20 181.96,284.20 191.99,284.20 202.03,284.20 222.11,284.20 232.15,284.20" fill="none" stroke="#111" stroke-width="1.5" stroke-linejoin="miter"/>
<polyline points="61.50,284.20 71.54,284.20 81.58,284.20 91.61,284.20 101.65,284.20 111.69,284.20 121.73,281.30 131.77,284.20 141.80,284.20 151.84,284.20 161.88,284.20 171.92,284.20 181.96,281.30 191.99,284.20 202.03,284.20 222.11,284.20 232.15,284.20" fill="none" stroke="#111" stroke-width="1.5" stroke-linejoin="miter"/>
<polyline points="61.50,284.20 71.54,283.00 81.58,257.00 91.61,244.40 101.65,247.80 111.69,247.80 121.73,224.60 131.77,220.20 141.80,212.50 151.84,212.50 161.88,196.30 171.92,180.60 181.96,188.50 191.99,182.60 202.03,182.60 222.11,182.60 232.15,176.60" fill="none" stroke="#111" stroke-width="1.8" stroke-linejoin="miter"/>
<polyline points="61.50,284.20 71.54,280.70 81.58,244.80 91.61,231.50 101.65,203.00" fill="none" stroke="#111" stroke-width="1.8" stroke-linejoin="miter"/>
<circle cx="61.50" cy="284.20" r="2.4" fill="#fff" stroke="#222" stroke-width="1"/>
<circle cx="71.54" cy="284.20" r="2.4" fill="#fff" stroke="#222" stroke-width="1"/>
<circle cx="81.58" cy="279.60" r="2.4" fill="#fff" stroke="#222" stroke-width="1"/>
<circle cx="91.61" cy="284.20" r="2.4" fill="#fff" stroke="#222" stroke-width="1"/>
<circle cx="101.65" cy="283.00" r="2.4" fill="#fff" stroke="#222" stroke-width="1"/>
<circle cx="111.69" cy="284.20" r="2.4" fill="#fff" stroke="#222" stroke-width="1"/>
<circle cx="121.73" cy="284.20" r="2.4" fill="#fff" stroke="#222" stroke-width="1"/>
<circle cx="131.77" cy="284.20" r="2.4" fill="#fff" stroke="#222" stroke-width="1"/>
<circle cx="141.80" cy="284.20" r="2.4" fill="#fff" stroke="#222" stroke-width="1"/>
<circle cx="151.84" cy="284.20" r="2.4" fill="#fff" stroke="#222" stroke-width="1"/>
<circle cx="161.88" cy="284.20" r="2.4" fill="#fff" stroke="#222" stroke-width="1"/>
<circle cx="171.92" cy="284.20" r="2.4" fill="#fff" stroke="#222" stroke-width="1"/>
<circle cx="181.96" cy="284.20" r="2.4" fill="#fff" stroke="#222" stroke-width="1"/>
<circle cx="191.99" cy="284.20" r="2.4" fill="#fff" stroke="#222" stroke-width="1"/>
<circle cx="202.03" cy="284.20" r="2.4" fill="#fff" stroke="#222" stroke-width="1"/>
<circle cx="222.11" cy="284.20" r="2.4" fill="#fff" stroke="#222" stroke-width="1"/>
<circle cx="232.15" cy="284.20" r="2.4" fill="#fff" stroke="#222" stroke-width="1"/>
<circle cx="71.54" cy="280.70" r="2.7" fill="#000"/>
<circle cx="81.58" cy="244.80" r="2.7" fill="#000"/>
<circle cx="91.61" cy="231.50" r="2.7" fill="#000"/>
<circle cx="101.65" cy="203.00" r="2.7" fill="#000"/>
<rect x="69.04" y="280.50" width="5" height="5" fill="#000"/>
<rect x="79.08" y="254.50" width="5" height="5" fill="#000"/>
<rect x="89.11" y="241.90" width="5" height="5" fill="#000"/>
<rect x="99.15" y="245.30" width="5" height="5" fill="#000"/>
<rect x="109.19" y="245.30" width="5" height="5" fill="#000"/>
<rect x="119.23" y="222.10" width="5" height="5" fill="#000"/>
<rect x="129.27" y="217.70" width="5" height="5" fill="#000"/>
<rect x="139.30" y="210.00" width="5" height="5" fill="#000"/>
<rect x="149.34" y="210.00" width="5" height="5" fill="#000"/>
<rect x="159.38" y="193.80" width="5" height="5" fill="#000"/>
<rect x="169.42" y="178.10" width="5" height="5" fill="#000"/>
<rect x="179.46" y="186.00" width="5" height="5" fill="#000"/>
<rect x="189.49" y="180.10" width="5" height="5" fill="#000"/>
<rect x="199.53" y="180.10" width="5" height="5" fill="#000"/>
<rect x="219.61" y="180.10" width="5" height="5" fill="#000"/>
<rect x="229.65" y="174.10" width="5" height="5" fill="#000"/>
<rect x="59.00" y="281.70" width="5" height="5" fill="#fff" stroke="#222" stroke-width="1"/>
<rect x="69.04" y="281.70" width="5" height="5" fill="#fff" stroke="#222" stroke-width="1"/>
<rect x="79.08" y="281.70" width="5" height="5" fill="#fff" stroke="#222" stroke-width="1"/>
<rect x="89.11" y="281.70" width="5" height="5" fill="#fff" stroke="#222" stroke-width="1"/>
<rect x="99.15" y="281.70" width="5" height="5" fill="#fff" stroke="#222" stroke-width="1"/>
<rect x="109.19" y="281.70" width="5" height="5" fill="#fff" stroke="#222" stroke-width="1"/>
<rect x="119.23" y="278.80" width="5" height="5" fill="#fff" stroke="#222" stroke-width="1"/>
<rect x="129.27" y="281.70" width="5" height="5" fill="#fff" stroke="#222" stroke-width="1"/>
<rect x="139.30" y="281.70" width="5" height="5" fill="#fff" stroke="#222" stroke-width="1"/>
<rect x="149.34" y="281.70" width="5" height="5" fill="#fff" stroke="#222" stroke-width="1"/>
<rect x="159.38" y="281.70" width="5" height="5" fill="#fff" stroke="#222" stroke-width="1"/>
<rect x="169.42" y="281.70" width="5" height="5" fill="#fff" stroke="#222" stroke-width="1"/>
<rect x="179.46" y="278.80" width="5" height="5" fill="#fff" stroke="#222" stroke-width="1"/>
<rect x="189.49" y="281.70" width="5" height="5" fill="#fff" stroke="#222" stroke-width="1"/>
<rect x="199.53" y="281.70" width="5" height="5" fill="#fff" stroke="#222" stroke-width="1"/>
<rect x="219.61" y="281.70" width="5" height="5" fill="#fff" stroke="#222" stroke-width="1"/>
<rect x="229.65" y="281.70" width="5" height="5" fill="#fff" stroke="#222" stroke-width="1"/>
<text x="302.20" y="197.80" font-size="17.6" text-anchor="start" font-weight="normal" fill="#000" stroke="#000" stroke-width="0.3">wt allo</text>
<text x="365.90" y="197.80" font-size="17.6" text-anchor="start" font-weight="normal" fill="#000" stroke="#000" stroke-width="0.3">IL-15 tg allo</text>
<rect x="302.8" y="200.1" width="51.4" height="1.4" fill="#888"/>
<rect x="364.8" y="200.1" width="91.1" height="1.4" fill="#888"/>
<rect x="470" y="194.6" width="10.6" height="1.7" fill="#000"/>
<rect x="490.9" y="193.5" width="9.7" height="1.7" fill="#000"/>
<rect x="494.9" y="189.7" width="1.7" height="9.2" fill="#000"/>
<rect x="300" y="207.0" width="212" height="11.7" fill="#141414"/>
<rect x="300" y="222.9" width="212" height="12.2" fill="#161616"/>
<clipPath id="g1"><rect x="300" y="207.0" width="212" height="11.7"/></clipPath>
<g clip-path="url(#g1)" filter="url(#bl)">
<rect x="363.20" y="211.1" width="15.0" height="4.5" rx="1.6" fill="#fcfcfc"/>
<rect x="383.95" y="211.1" width="15.0" height="4.5" rx="1.6" fill="#fcfcfc"/>
<rect x="404.70" y="211.1" width="15.0" height="4.5" rx="1.6" fill="#fcfcfc"/>
<rect x="425.45" y="211.1" width="15.0" height="4.5" rx="1.6" fill="#fcfcfc"/>
<rect x="446.20" y="211.1" width="15.0" height="4.5" rx="1.6" fill="#fcfcfc"/>
<rect x="487.70" y="211.1" width="15.0" height="4.5" rx="1.6" fill="#fcfcfc"/>
</g>
<g filter="url(#bl2)">
<rect x="303.05" y="226.0" width="16.6" height="7.0" rx="1.8" fill="url(#band2)"/>
<ellipse cx="312.85" cy="229.6" rx="3.6" ry="1.9" fill="#6e6e6e"/>
<ellipse cx="306.75" cy="229.4" rx="2.3" ry="2.4" fill="#8c8c8c"/>
<rect x="323.48" y="226.0" width="16.6" height="7.0" rx="1.8" fill="url(#band2)"/>
<ellipse cx="333.28" cy="229.6" rx="3.6" ry="1.9" fill="#6e6e6e"/>
<ellipse cx="327.18" cy="229.4" rx="2.3" ry="2.4" fill="#8c8c8c"/>
<rect x="343.91" y="226.0" width="16.6" height="7.0" rx="1.8" fill="url(#band2)"/>
<ellipse cx="353.71" cy="229.6" rx="3.6" ry="1.9" fill="#6e6e6e"/>
<ellipse cx="347.61" cy="229.4" rx="2.3" ry="2.4" fill="#8c8c8c"/>
<rect x="364.34" y="226.0" width="16.6" height="7.0" rx="1.8" fill="url(#band2)"/>
<ellipse cx="374.14" cy="229.6" rx="3.6" ry="1.9" fill="#6e6e6e"/>
<ellipse cx="368.04" cy="229.4" rx="2.3" ry="2.4" fill="#8c8c8c"/>
<rect x="384.77" y="226.0" width="16.6" height="7.0" rx="1.8" fill="url(#band2)"/>
<ellipse cx="394.57" cy="229.6" rx="3.6" ry="1.9" fill="#6e6e6e"/>
<ellipse cx="388.47" cy="229.4" rx="2.3" ry="2.4" fill="#8c8c8c"/>
<rect x="405.20" y="226.0" width="16.6" height="7.0" rx="1.8" fill="url(#band2)"/>
<ellipse cx="415.00" cy="229.6" rx="3.6" ry="1.9" fill="#6e6e6e"/>
<ellipse cx="408.90" cy="229.4" rx="2.3" ry="2.4" fill="#8c8c8c"/>
<rect x="425.63" y="226.0" width="16.6" height="7.0" rx="1.8" fill="url(#band2)"/>
<ellipse cx="435.43" cy="229.6" rx="3.6" ry="1.9" fill="#6e6e6e"/>
<ellipse cx="429.33" cy="229.4" rx="2.3" ry="2.4" fill="#8c8c8c"/>
<rect x="446.06" y="226.0" width="16.6" height="7.0" rx="1.8" fill="url(#band2)"/>
<ellipse cx="455.86" cy="229.6" rx="3.6" ry="1.9" fill="#6e6e6e"/>
<ellipse cx="449.76" cy="229.4" rx="2.3" ry="2.4" fill="#8c8c8c"/>
<rect x="466.49" y="226.0" width="16.6" height="7.0" rx="1.8" fill="url(#band2)"/>
<ellipse cx="476.29" cy="229.6" rx="3.6" ry="1.9" fill="#6e6e6e"/>
<ellipse cx="470.19" cy="229.4" rx="2.3" ry="2.4" fill="#8c8c8c"/>
<rect x="486.92" y="226.0" width="16.6" height="7.0" rx="1.8" fill="url(#band2)"/>
<ellipse cx="496.72" cy="229.6" rx="3.6" ry="1.9" fill="#6e6e6e"/>
<ellipse cx="490.62" cy="229.4" rx="2.3" ry="2.4" fill="#8c8c8c"/>
</g>
<line x1="61.50" y1="5.00" x2="61.50" y2="131.50" stroke="#3a3a3a" stroke-width="1.1"/>
<line x1="334.20" y1="5.80" x2="334.20" y2="131.60" stroke="#3a3a3a" stroke-width="1.1"/>
<line x1="61.50" y1="164.40" x2="61.50" y2="290.70" stroke="#3a3a3a" stroke-width="1.1"/>
</svg>
</body></html>
